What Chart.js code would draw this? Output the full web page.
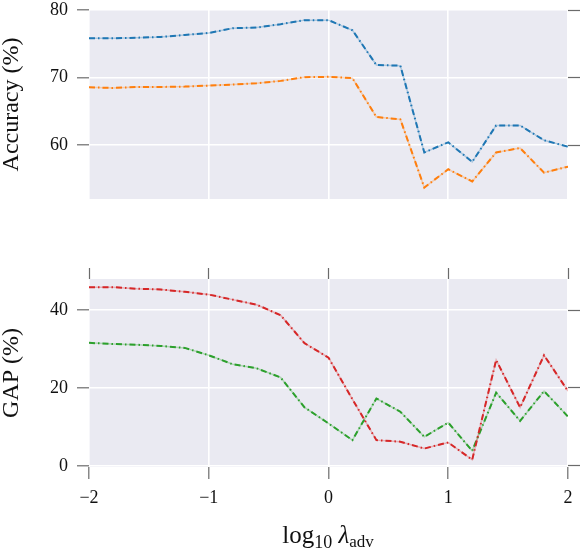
<!DOCTYPE html>
<html>
<head>
<meta charset="utf-8">
<script src="https://cdn.jsdelivr.net/npm/chart.js@4.4.1/dist/chart.umd.min.js"></script>
<style>
  html, body { margin: 0; padding: 0; background: #fff; }
  body { width: 582px; height: 552px; position: relative; overflow: hidden; font-family: 'Liberation Serif', serif; }
  .box { position: absolute; left: 0; width: 582px; }
  #xlabel { position: absolute; top: 521px; left: 0; width: 656px; text-align: center; font-size: 25px; color: #111; white-space: nowrap; }
  #xlabel sub { font-size: 18px; vertical-align: -5px; }
  #xlabel .adv { font-size: 17px; vertical-align: -4px; }
</style>
</head>
<body>
<div class="box" style="top:0;height:205px;"><canvas id="top"></canvas></div>
<div class="box" style="top:250px;height:302px;"><canvas id="bot"></canvas></div>
<div id="xlabel">log<sub>10</sub> <i>λ</i><span class="adv">adv</span></div>
<script>
const xValues = [-2, -1.8, -1.6, -1.4, -1.2, -1, -0.8, -0.6, -0.4, -0.2, 0, 0.2, 0.4, 0.6, 0.8, 1, 1.2, 1.4, 1.6, 1.8, 2];
const accuracyBlue = [75.8, 75.8, 75.9, 76.0, 76.3, 76.6, 77.3, 77.4, 77.9, 78.5, 78.5, 77.0, 71.85, 71.75, 58.9, 60.4, 57.5, 62.9, 62.9, 60.7, 59.75];
const accuracyOrange = [68.55, 68.45, 68.6, 68.6, 68.65, 68.8, 68.95, 69.15, 69.5, 70.05, 70.1, 69.9, 64.15, 63.8, 53.7, 56.4, 54.6, 58.9, 59.55, 55.9, 56.8];
const gapRed = [45.9, 45.9, 45.5, 45.3, 44.7, 44.0, 42.7, 41.4, 38.7, 31.5, 27.8, 17.1, 6.6, 6.2, 4.45, 6.0, 1.55, 27.2, 15.0, 28.4, 19.2];
const gapGreen = [31.6, 31.3, 31.1, 30.8, 30.3, 28.4, 26.1, 25.05, 22.7, 15.0, 10.9, 6.6, 17.3, 13.9, 7.45, 11.1, 3.85, 18.8, 11.55, 19.2, 12.65];
const xTicks = [-2, -1, 0, 1, 2];
const accTicks = [60, 70, 80];
const gapTicks = [0, 20, 40];

Chart.defaults.font.family = "'Liberation Serif', serif";
Chart.defaults.color = '#111';

const fmt = v => (v < 0 ? '\u2212' + Math.abs(v) : String(v));
const pts = arr => arr.map((y, i) => ({ x: xValues[i], y }));
const TICKC = '#6b6b6b';

const bgPlugin = {
  id: 'bg',
  beforeDraw(chart) {
    const a = chart.chartArea, c = chart.ctx;
    c.save(); c.fillStyle = '#EAEAF2';
    c.fillRect(a.left, a.top, a.right - a.left, a.bottom - a.top);
    c.restore();
  }
};

function series(data, color, faint) {
  return [
    { data: pts(data), borderColor: faint, borderWidth: 1.5, pointRadius: 0, tension: 0, order: 2 },
    { data: pts(data), borderColor: color, borderWidth: 2, borderDash: [6, 3, 1.5, 3], pointRadius: 0, tension: 0, order: 1 }
  ];
}

function setTicks(list) { return s => { s.ticks = list.map(v => ({ value: v })); }; }
function fitW(w) { return s => { s.width = w; s.paddingTop = 0; s.paddingBottom = 0; }; }
function fitH(h) { return s => { s.height = h; s.paddingLeft = 0; s.paddingRight = 0; }; }

function yAxes(min, max, ticks, title) {
  return {
    y: {
      position: 'left', min, max,
      afterBuildTicks: setTicks(ticks),
      afterFit: fitW(89),
      border: { display: false },
      grid: { color: '#ffffff', lineWidth: 1.6, tickColor: TICKC, tickLength: 12, tickWidth: 1.2 },
      ticks: { font: { size: 18 }, padding: 9, callback: fmt, color: '#111' },
      title: { display: true, text: title, font: { size: 24, lineHeight: 1 }, padding: 0, color: '#111' }
    },
    yR: {
      position: 'right', min, max,
      afterBuildTicks: setTicks(ticks),
      afterFit: fitW(14),
      border: { display: false },
      grid: { drawOnChartArea: false, tickColor: TICKC, tickLength: 12, tickWidth: 1.2 },
      ticks: { display: false }
    }
  };
}

new Chart(document.getElementById('top'), {
  type: 'line',
  data: { datasets: [...series(accuracyBlue, '#1f77b4', 'rgba(31,119,180,0.3)'), ...series(accuracyOrange, '#ff7f0e', 'rgba(255,127,14,0.3)')] },
  options: {
    responsive: true, maintainAspectRatio: false, animation: false,
    layout: { padding: { top: 10, left: 0, right: 0, bottom: 0 } },
    plugins: { legend: { display: false }, tooltip: { enabled: false } },
    scales: {
      x: {
        type: 'linear', min: -2, max: 2,
        afterBuildTicks: setTicks(xTicks),
        afterFit: fitH(6),
        border: { display: false },
        grid: { color: '#ffffff', lineWidth: 1.6, drawTicks: false },
        ticks: { display: false }
      },
      ...yAxes(52, 80, accTicks, 'Accuracy (%)')
    }
  },
  plugins: [bgPlugin]
});

new Chart(document.getElementById('bot'), {
  type: 'line',
  data: { datasets: [...series(gapRed, '#d62728', 'rgba(214,39,40,0.3)'), ...series(gapGreen, '#2ca02c', 'rgba(44,160,44,0.3)')] },
  options: {
    responsive: true, maintainAspectRatio: false, animation: false,
    layout: { padding: 0 },
    plugins: { legend: { display: false }, tooltip: { enabled: false } },
    scales: {
      x: {
        type: 'linear', position: 'bottom', min: -2, max: 2,
        afterBuildTicks: setTicks(xTicks),
        afterFit: fitH(85),
        border: { display: false },
        grid: { color: '#ffffff', lineWidth: 1.6, tickColor: TICKC, tickLength: 12, tickWidth: 1.2 },
        ticks: { font: { size: 18 }, padding: 8, callback: fmt, color: '#111', maxRotation: 0 }
      },
      x2: {
        type: 'linear', position: 'top', min: -2, max: 2,
        afterBuildTicks: setTicks(xTicks),
        afterFit: fitH(29),
        border: { display: false },
        grid: { drawOnChartArea: false, tickColor: TICKC, tickLength: 11, tickWidth: 1.2 },
        ticks: { display: false }
      },
      ...yAxes(-0.3, 48, gapTicks, 'GAP (%)')
    }
  },
  plugins: [bgPlugin]
});
</script>
</body>
</html>
